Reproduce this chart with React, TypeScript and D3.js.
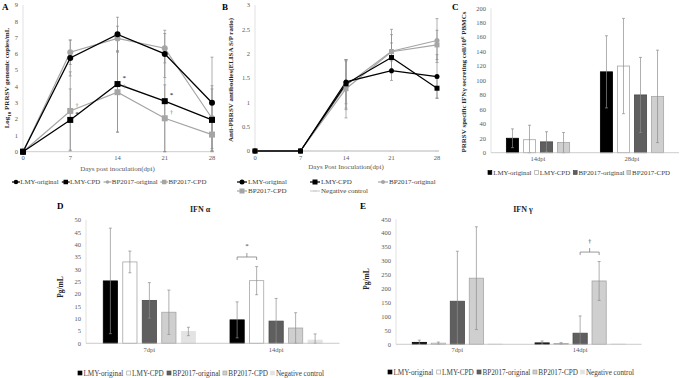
import React from "react";
import * as d3 from "d3";

// ---------- DATA ----------
const days = [0, 7, 14, 21, 28];
const lineSeriesNames = ["LMY-original", "LMY-CPD", "BP2017-original", "BP2017-CPD"];

// Panel A: viremia (log10 copies/mL)
const viremiaLMYOriginal = [0, 5.75, 7.2, 6.0, 3.0];
const viremiaLMYCPD = [0, 1.95, 4.15, 3.1, 1.95];
const viremiaBPOriginal = [0, 6.1, 6.95, 6.35, 2.05];
const viremiaBPCPD = [0, 2.5, 3.65, 2.05, 1.05];
const viremiaErrLMYOriginal = [0, 1.1, 1.05, 1.45, 2.8];
const viremiaErrLMYCPD = [0, 1.9, 2.95, 3.1, 1.9];
const viremiaErrBPOriginal = [0, 0.75, 0.75, 0.9, 2.0];
const viremiaErrBPCPD = [0, 2.4, 2.45, 2.05, 1.05];
const viremiaTicks = [0, 1, 2, 3, 4, 5, 6, 7, 8, 9];

// Panel B: antibodies (S/P ratio)
const antibodyLMYOriginal = [0, 0, 1.42, 1.65, 1.53];
const antibodyLMYCPD = [0, 0, 1.38, 1.92, 1.29];
const antibodyBPOriginal = [0, 0, 1.35, 2.05, 2.27];
const antibodyBPCPD = [0, 0, 1.28, 2.04, 2.18];
const antibodyNegative = [0, 0, 0, 0, 0];
const antibodyErrLMYOriginal = [0, 0, 0.45, 0.2, 0.45];
const antibodyErrLMYCPD = [0, 0, 0.5, 0.3, 0.2];
const antibodyErrBPOriginal = [0, 0, 0.5, 0.45, 0.45];
const antibodyErrBPCPD = [0, 0, 0.6, 0.35, 0.3];
const antibodyErrNegative = [0, 0, 0, 0, 0];
const antibodyTicks = [0, 0.5, 1, 1.5, 2, 2.5, 3];

// Panel C: IFNγ secreting cells
const elispotGroups = ["14dpi", "28dpi"];
const elispotLMYOriginal = [20, 112];
const elispotLMYCPD = [18, 120];
const elispotBPOriginal = [15, 80];
const elispotBPCPD = [14, 78];
const elispotErrLMYOriginal = [13, 50];
const elispotErrLMYCPD = [20, 66];
const elispotErrBPOriginal = [14, 52];
const elispotErrBPCPD = [14, 64];
const elispotTicks = [0, 20, 40, 60, 80, 100, 120, 140, 160, 180, 200];

// Panels D/E
const cytokineGroups = ["7dpi", "14dpi"];
const barSeriesNames = ["LMY-original", "LMY-CPD", "BP2017-original", "BP2017-CPD", "Negative control"];
const ifnAlphaLMYOriginal = [25.3, 9.5];
const ifnAlphaLMYCPD = [33, 25.4];
const ifnAlphaBPOriginal = [17.4, 9.0];
const ifnAlphaBPCPD = [12.6, 6.2];
const ifnAlphaNegative = [4.8, 1.3];
const ifnAlphaErrLMYOriginal = [21.4, 7.3];
const ifnAlphaErrLMYCPD = [4.4, 5.7];
const ifnAlphaErrBPOriginal = [7.2, 9.2];
const ifnAlphaErrBPCPD = [9.0, 6.2];
const ifnAlphaErrNegative = [1.7, 2.5];
const ifnAlphaTicks = [0, 5, 10, 15, 20, 25, 30, 35, 40, 45, 50];

const ifnGammaLMYOriginal = [7, 5];
const ifnGammaLMYCPD = [4, 3];
const ifnGammaBPOriginal = [155, 40];
const ifnGammaBPCPD = [238, 228];
const ifnGammaNegative = [1, 1];
const ifnGammaErrLMYOriginal = [8, 7];
const ifnGammaErrLMYCPD = [4, 3];
const ifnGammaErrBPOriginal = [180, 62];
const ifnGammaErrBPCPD = [185, 70];
const ifnGammaErrNegative = [0, 0];
const ifnGammaTicks = [0, 50, 100, 150, 200, 250, 300, 350, 400, 450];

// ---------- STYLE ----------
const FONT = "'Liberation Serif', 'Times New Roman', serif";
const TICK = "#595959";
const AXIS = "#bfbfbf";
const ERR = "#8c8c8c";
const GRAY_LINE = "#a5a5a5";

// Times-compatible advance widths (per em) for legend layout
const CW: Record<string, number> = {
  " ": 0.25, "-": 0.333, "0": 0.5, "1": 0.5, "2": 0.5, "7": 0.5,
  A: 0.722, B: 0.667, C: 0.667, D: 0.722, L: 0.611, M: 0.889, N: 0.722, P: 0.556, Y: 0.722,
  a: 0.444, c: 0.444, e: 0.444, g: 0.5, i: 0.278, l: 0.278, n: 0.5, o: 0.5, r: 0.333, t: 0.278, v: 0.5,
};
const textWidth = (s: string, size: number) => s.split("").reduce((w, ch) => w + (CW[ch] ?? 0.5), 0) * size;

type MarkerType = "circle" | "square" | "diamond" | "dash";

function Marker({ type, x, y, color, size }: { type: MarkerType; x: number; y: number; color: string; size: number }) {
  if (type === "circle") return <circle cx={x} cy={y} r={size / 2} fill={color} />;
  if (type === "square") return <rect x={x - size / 2} y={y - size / 2} width={size} height={size} fill={color} />;
  if (type === "diamond")
    return <path d={`M${x},${y - size / 2}L${x + size / 2},${y}L${x},${y + size / 2}L${x - size / 2},${y}Z`} fill={color} />;
  return <line x1={x - size / 2} x2={x + size / 2} y1={y} y2={y} stroke={color} strokeWidth={1} />;
}

type LS = { name: string; values: number[]; errors: number[]; color: string; marker: MarkerType; size: number; width: number };

function LinePanel(props: {
  series: LS[];
  x0: number; x1: number; yTop: number; yBottom: number;
  yMax: number; ticks: number[];
}) {
  const { series, x0, x1, yTop, yBottom, yMax, ticks } = props;
  const x = d3.scaleLinear().domain([0, 28]).range([x0, x1]);
  const y = d3.scaleLinear().domain([0, yMax]).range([yBottom, yTop]);
  const line = d3.line<number>().x((_, i) => x(days[i])).y((v) => y(v));
  return (
    <g>
      <line x1={x0} x2={x0} y1={yTop} y2={yBottom} stroke="#d9d9d9" strokeWidth={0.8} />
      <line x1={x0} x2={x1 + 2} y1={yBottom} y2={yBottom} stroke={AXIS} strokeWidth={0.8} />
      {ticks.map((t) => (
        <text key={t} x={x0 - 5} y={y(t)} dy="0.35em" textAnchor="end" fontSize={6.5} fill={TICK}>{t}</text>
      ))}
      {days.map((d) => (
        <text key={d} x={x(d)} y={yBottom + 8.5} textAnchor="middle" fontSize={6.5} fill={TICK}>{d}</text>
      ))}
      {series.map((s) =>
        s.values.map((v, i) =>
          s.errors[i] > 0 ? (
            <g key={s.name + i} stroke={ERR} strokeWidth={0.7}>
              <line x1={x(days[i])} x2={x(days[i])} y1={y(Math.min(yMax, v + s.errors[i]))} y2={y(Math.max(0, v - s.errors[i]))} />
              <line x1={x(days[i]) - 1.5} x2={x(days[i]) + 1.5} y1={y(v + s.errors[i])} y2={y(v + s.errors[i])} />
              <line x1={x(days[i]) - 1.5} x2={x(days[i]) + 1.5} y1={y(Math.max(0, v - s.errors[i]))} y2={y(Math.max(0, v - s.errors[i]))} />
            </g>
          ) : null
        )
      )}
      {series.map((s) => (
        <path key={s.name} d={line(s.values) || ""} fill="none" stroke={s.color} strokeWidth={s.width} />
      ))}
      {series.map((s) =>
        s.values.map((v, i) => <Marker key={s.name + "m" + i} type={s.marker} x={x(days[i])} y={y(v)} color={s.color} size={s.size} />)
      )}
    </g>
  );
}

type BS = { name: string; values: number[]; errors: number[]; fill: string; stroke: string };

function BarPanel(props: {
  groups: string[]; series: BS[];
  x0: number; x1: number; yTop: number; yBottom: number; yMax: number; ticks: number[];
  padInner: number; padOuter: number; labelDy: number;
}) {
  const { groups, series, x0, x1, yTop, yBottom, yMax, ticks, padInner, padOuter, labelDy } = props;
  const xg = d3.scaleBand<string>().domain(groups).range([x0, x1]).padding(0);
  const xs = d3.scaleBand<string>().domain(series.map((s) => s.name)).range([0, xg.bandwidth()]).paddingInner(padInner).paddingOuter(padOuter);
  const y = d3.scaleLinear().domain([0, yMax]).range([yBottom, yTop]);
  const bw = xs.bandwidth();
  return (
    <g>
      <line x1={x0} x2={x0} y1={yTop} y2={yBottom} stroke="#d9d9d9" strokeWidth={0.8} />
      {ticks.map((t) => (
        <text key={t} x={x0 - 5} y={y(t)} dy="0.35em" textAnchor="end" fontSize={6.5} fill={TICK}>{t}</text>
      ))}
      {groups.map((g) => (
        <text key={g} x={(xg(g) || 0) + xg.bandwidth() / 2} y={yBottom + labelDy} textAnchor="middle" fontSize={6.5} fill={TICK}>{g}</text>
      ))}
      {series.map((s) =>
        groups.map((g, i) => {
          const bx = (xg(g) || 0) + (xs(s.name) || 0);
          const v = s.values[i];
          return (
            <rect key={s.name + g} x={bx + 0.4} y={y(v)} width={bw - 0.8} height={yBottom - y(v)} fill={s.fill} stroke={s.stroke} strokeWidth={0.8} />
          );
        })
      )}
      {series.map((s) =>
        groups.map((g, i) => {
          const cx = (xg(g) || 0) + (xs(s.name) || 0) + bw / 2;
          const v = s.values[i];
          const e = s.errors[i];
          if (!e) return null;
          const top = y(Math.min(yMax, v + e));
          const bot = y(Math.max(0, v - e));
          return (
            <g key={s.name + g + "e"} stroke={ERR} strokeWidth={0.7}>
              <line x1={cx} x2={cx} y1={top} y2={bot} />
              <line x1={cx - 1.5} x2={cx + 1.5} y1={top} y2={top} />
              <line x1={cx - 1.5} x2={cx + 1.5} y1={bot} y2={bot} />
            </g>
          );
        })
      )}
      <line x1={x0} x2={x1} y1={yBottom} y2={yBottom} stroke={AXIS} strokeWidth={0.8} />
    </g>
  );
}

function Bracket({ xa, xb, y, label }: { xa: number; xb: number; y: number; label: string }) {
  const mid = (xa + xb) / 2;
  return (
    <g stroke="#7f7f7f" strokeWidth={0.8} fill="none">
      <path d={`M${xa},${y + 3}V${y}H${xb}V${y + 3}`} />
      <line x1={mid} x2={mid} y1={y} y2={y - 4} />
      <text x={mid} y={y - 9} textAnchor="middle" fontSize={7} fill="#404040" stroke="none">{label}</text>
    </g>
  );
}

type LineLegendEntry = { label: string; color: string; marker: MarkerType; size: number };

function LineLegendRow({ x, y, size, items }: { x: number; y: number; size: number; items: LineLegendEntry[] }) {
  let cur = x;
  const out: React.ReactNode[] = [];
  items.forEach((it, i) => {
    const lx = cur;
    const lw = 1.15 * size;
    out.push(
      <g key={i}>
        <line x1={lx} x2={lx + lw} y1={y} y2={y} stroke={it.color} strokeWidth={1.2} />
        <Marker type={it.marker} x={lx + lw / 2} y={y} color={it.color} size={it.size} />
        <text x={lx + lw + 0.05 * size} y={y} dy="0.35em" fontSize={size} fill="#404040">{it.label}</text>
      </g>
    );
    cur = lx + lw + 0.05 * size + textWidth(it.label, size) + 0.35 * size;
  });
  return <g>{out}</g>;
}

function LineLegendItem({ x, y, color, marker, size, label }: { x: number; y: number; color: string; marker: MarkerType; size: number; label: string }) {
  return (
    <g>
      <line x1={x - 5} x2={x + 5} y1={y} y2={y} stroke={color} strokeWidth={1.2} />
      <Marker type={marker} x={x} y={y} color={color} size={size} />
      <text x={x + 6} y={y} dy="0.35em" fontSize={7} fill="#404040">{label}</text>
    </g>
  );
}

function BarLegendRow({ x, y, size, labels, fills, strokes }: { x: number; y: number; size: number; labels: string[]; fills: string[]; strokes: string[] }) {
  let cur = x;
  const out: React.ReactNode[] = [];
  labels.forEach((lab, i) => {
    const m = 0.55 * size;
    out.push(
      <g key={i}>
        <rect x={cur} y={y - m / 2} width={m} height={m} fill={fills[i]} stroke={strokes[i]} strokeWidth={0.7} />
        <text x={cur + m + 0.2 * size} y={y} dy="0.35em" fontSize={size} fill="#404040">{lab}</text>
      </g>
    );
    cur = cur + m + 0.2 * size + textWidth(lab, size) + 0.35 * size;
  });
  return <g>{out}</g>;
}

export default function App() {
  const seriesA: LS[] = [
    { name: lineSeriesNames[2], values: viremiaBPOriginal, errors: viremiaErrBPOriginal, color: GRAY_LINE, marker: "circle", size: 6, width: 1.2 },
    { name: lineSeriesNames[3], values: viremiaBPCPD, errors: viremiaErrBPCPD, color: GRAY_LINE, marker: "square", size: 6, width: 1.2 },
    { name: lineSeriesNames[0], values: viremiaLMYOriginal, errors: viremiaErrLMYOriginal, color: "#000", marker: "circle", size: 6, width: 1.3 },
    { name: lineSeriesNames[1], values: viremiaLMYCPD, errors: viremiaErrLMYCPD, color: "#000", marker: "square", size: 6, width: 1.3 },
  ];
  const seriesB: LS[] = [
    { name: "Negative control", values: antibodyNegative, errors: antibodyErrNegative, color: "#d0d0d0", marker: "dash", size: 4, width: 1 },
    { name: lineSeriesNames[2], values: antibodyBPOriginal, errors: antibodyErrBPOriginal, color: GRAY_LINE, marker: "circle", size: 5, width: 1.2 },
    { name: lineSeriesNames[3], values: antibodyBPCPD, errors: antibodyErrBPCPD, color: GRAY_LINE, marker: "square", size: 5, width: 1.2 },
    { name: lineSeriesNames[0], values: antibodyLMYOriginal, errors: antibodyErrLMYOriginal, color: "#000", marker: "circle", size: 5, width: 1.2 },
    { name: lineSeriesNames[1], values: antibodyLMYCPD, errors: antibodyErrLMYCPD, color: "#000", marker: "square", size: 5, width: 1.2 },
  ];

  const barFills = ["#000000", "#ffffff", "#5f5f5f", "#cfcfcf", "#e3e3e3"];
  const barStrokes = ["#000000", "#a6a6a6", "#4a4a4a", "#a6a6a6", "#e3e3e3"];

  const mk = (names: string[], vals: number[][], errs: number[][]): BS[] =>
    names.map((n, i) => ({ name: n, values: vals[i], errors: errs[i], fill: barFills[i], stroke: barStrokes[i] }));

  const seriesC = mk(lineSeriesNames, [elispotLMYOriginal, elispotLMYCPD, elispotBPOriginal, elispotBPCPD],
    [elispotErrLMYOriginal, elispotErrLMYCPD, elispotErrBPOriginal, elispotErrBPCPD]);
  const seriesD = mk(barSeriesNames, [ifnAlphaLMYOriginal, ifnAlphaLMYCPD, ifnAlphaBPOriginal, ifnAlphaBPCPD, ifnAlphaNegative],
    [ifnAlphaErrLMYOriginal, ifnAlphaErrLMYCPD, ifnAlphaErrBPOriginal, ifnAlphaErrBPCPD, ifnAlphaErrNegative]);
  const seriesE = mk(barSeriesNames, [ifnGammaLMYOriginal, ifnGammaLMYCPD, ifnGammaBPOriginal, ifnGammaBPCPD, ifnGammaNegative],
    [ifnGammaErrLMYOriginal, ifnGammaErrLMYCPD, ifnGammaErrBPOriginal, ifnGammaErrBPCPD, ifnGammaErrNegative]);

  const xA = d3.scaleLinear().domain([0, 28]).range([23, 212]);
  const yA = d3.scaleLinear().domain([0, 9]).range([151.7, 5]);
  const annotationsA = [
    { d: 7, v: viremiaBPCPD[1], s: "†" },
    { d: 7, v: viremiaLMYCPD[1], s: "*" },
    { d: 14, v: viremiaLMYCPD[2], s: "*" },
    { d: 14, v: viremiaBPCPD[2], s: "†" },
    { d: 21, v: viremiaLMYCPD[3], s: "*" },
    { d: 21, v: viremiaBPCPD[3], s: "†" },
  ];

  const xgD = d3.scaleBand<string>().domain(cytokineGroups).range([86, 339.5]);
  const xsD = d3.scaleBand<string>().domain(barSeriesNames).range([0, xgD.bandwidth()]).paddingInner(0.23).paddingOuter(0.865);
  const yD = d3.scaleLinear().domain([0, 50]).range([343.3, 220]);
  const xgE = d3.scaleBand<string>().domain(cytokineGroups).range([396, 641.5]);
  const xsE = d3.scaleBand<string>().domain(barSeriesNames).range([0, xgE.bandwidth()]).paddingInner(0.21).paddingOuter(0.835);
  const yE = d3.scaleLinear().domain([0, 450]).range([344.3, 219.3]);
  const cD = (g: string, s: string) => (xgD(g) || 0) + (xsD(s) || 0) + xsD.bandwidth() / 2;
  const cE = (g: string, s: string) => (xgE(g) || 0) + (xsE(s) || 0) + xsE.bandwidth() / 2;

  const legendA: LineLegendEntry[] = [
    { label: lineSeriesNames[0], color: "#000", marker: "circle", size: 4.5 },
    { label: lineSeriesNames[1], color: "#000", marker: "square", size: 4.5 },
    { label: lineSeriesNames[2], color: GRAY_LINE, marker: "circle", size: 3.5 },
    { label: lineSeriesNames[3], color: GRAY_LINE, marker: "square", size: 4.5 },
  ];

  return (
    <div style={{ position: "absolute", left: 0, top: 0 }}>
      <svg width={680} height={378} style={{ display: "block", background: "#fff" }} fontFamily={FONT}>
        <rect width={680} height={378} fill="#fff" />
        {/* ---------- Panel A ---------- */}
        <text x={2} y={10} fontSize={9} fontWeight="bold">A</text>
        <text transform="translate(9,78) rotate(-90)" textAnchor="middle" fontSize={7} fontWeight="bold" fill="#262626">
          Log<tspan fontSize={5} dy={2}>10</tspan><tspan dy={-2}> PRRSV genomic copies/mL</tspan>
        </text>
        <LinePanel series={seriesA} x0={23} x1={212} yTop={5} yBottom={151.7} yMax={9} ticks={viremiaTicks} />
        {annotationsA.map((a, i) => (
          <text key={i} x={xA(a.d) + 5} y={yA(a.v) - 4} fontSize={7} fill={a.s === "*" ? "#000" : "#808080"}>{a.s}</text>
        ))}
        <text x={117.5} y={171} textAnchor="middle" fontSize={7} fill={TICK}>Days post inoculation(dpi)</text>
        <LineLegendRow x={12} y={182} size={6.9} items={legendA} />

        {/* ---------- Panel B ---------- */}
        <text x={222} y={10} fontSize={9} fontWeight="bold">B</text>
        <text transform="translate(233,80) rotate(-90)" textAnchor="middle" fontSize={7} fontWeight="bold" fill="#262626">
          Anti-PRRSV antibodies(ELISA S/P ratio)
        </text>
        <LinePanel series={seriesB} x0={255} x1={437} yTop={5} yBottom={151} yMax={3} ticks={antibodyTicks} />
        <text x={346} y={169} textAnchor="middle" fontSize={7} fill={TICK}>Days Post Inoculation(dpi)</text>
        <LineLegendItem x={242} y={182} color="#000" marker="circle" size={5} label={lineSeriesNames[0]} />
        <LineLegendItem x={315} y={182} color="#000" marker="square" size={5} label={lineSeriesNames[1]} />
        <LineLegendItem x={383} y={182} color={GRAY_LINE} marker="circle" size={4} label={lineSeriesNames[2]} />
        <LineLegendItem x={242} y={191} color={GRAY_LINE} marker="square" size={5} label={lineSeriesNames[3]} />
        <LineLegendItem x={315} y={191} color="#d0d0d0" marker="dash" size={4} label="Negative control" />

        {/* ---------- Panel C ---------- */}
        <text x={452} y={10} fontSize={9} fontWeight="bold">C</text>
        <text transform="translate(466,82) rotate(-90)" textAnchor="middle" fontSize={7} fontWeight="bold" fill="#262626">
          PRRSV specific IFNγ secreting cell/10<tspan fontSize={5} dy={-2.5}>6</tspan><tspan dy={2.5}> PBMCs</tspan>
        </text>
        <BarPanel groups={elispotGroups} series={seriesC} x0={491} x1={679} yTop={8.3} yBottom={152.7} yMax={200} ticks={elispotTicks} padInner={0.235} padOuter={0.88} labelDy={8} />
        <BarLegendRow x={488} y={172.5} size={6.9} labels={lineSeriesNames} fills={barFills} strokes={barStrokes} />

        {/* ---------- Panel D ---------- */}
        <text x={57} y={209} fontSize={9} fontWeight="bold">D</text>
        <text x={200} y={212} textAnchor="middle" fontSize={8} fontWeight="bold" fill="#262626">IFN α</text>
        <text transform="translate(63,287) rotate(-90)" textAnchor="middle" fontSize={7.5} fontWeight="bold" fill="#262626">Pg/mL</text>
        <BarPanel groups={cytokineGroups} series={seriesD} x0={86} x1={339.5} yTop={220} yBottom={343.3} yMax={50} ticks={ifnAlphaTicks} padInner={0.23} padOuter={0.865} labelDy={9} />
        <Bracket xa={cD(cytokineGroups[1], barSeriesNames[0])} xb={cD(cytokineGroups[1], barSeriesNames[1])} y={yD(35)} label="*" />
        <BarLegendRow x={78} y={373} size={7.2} labels={barSeriesNames} fills={barFills} strokes={barStrokes} />

        {/* ---------- Panel E ---------- */}
        <text x={360} y={209} fontSize={9} fontWeight="bold">E</text>
        <text x={523} y={212} textAnchor="middle" fontSize={8} fontWeight="bold" fill="#262626">IFN γ</text>
        <text transform="translate(369,279) rotate(-90)" textAnchor="middle" fontSize={7.5} fontWeight="bold" fill="#262626">Pg/mL</text>
        <BarPanel groups={cytokineGroups} series={seriesE} x0={396} x1={641.5} yTop={219.3} yBottom={344.3} yMax={450} ticks={ifnGammaTicks} padInner={0.21} padOuter={0.835} labelDy={8} />
        <Bracket xa={cE(cytokineGroups[1], barSeriesNames[2])} xb={cE(cytokineGroups[1], barSeriesNames[3])} y={yE(332)} label="†" />
        <BarLegendRow x={388} y={372} size={7.2} labels={barSeriesNames} fills={barFills} strokes={barStrokes} />
      </svg>
    </div>
  );
}
